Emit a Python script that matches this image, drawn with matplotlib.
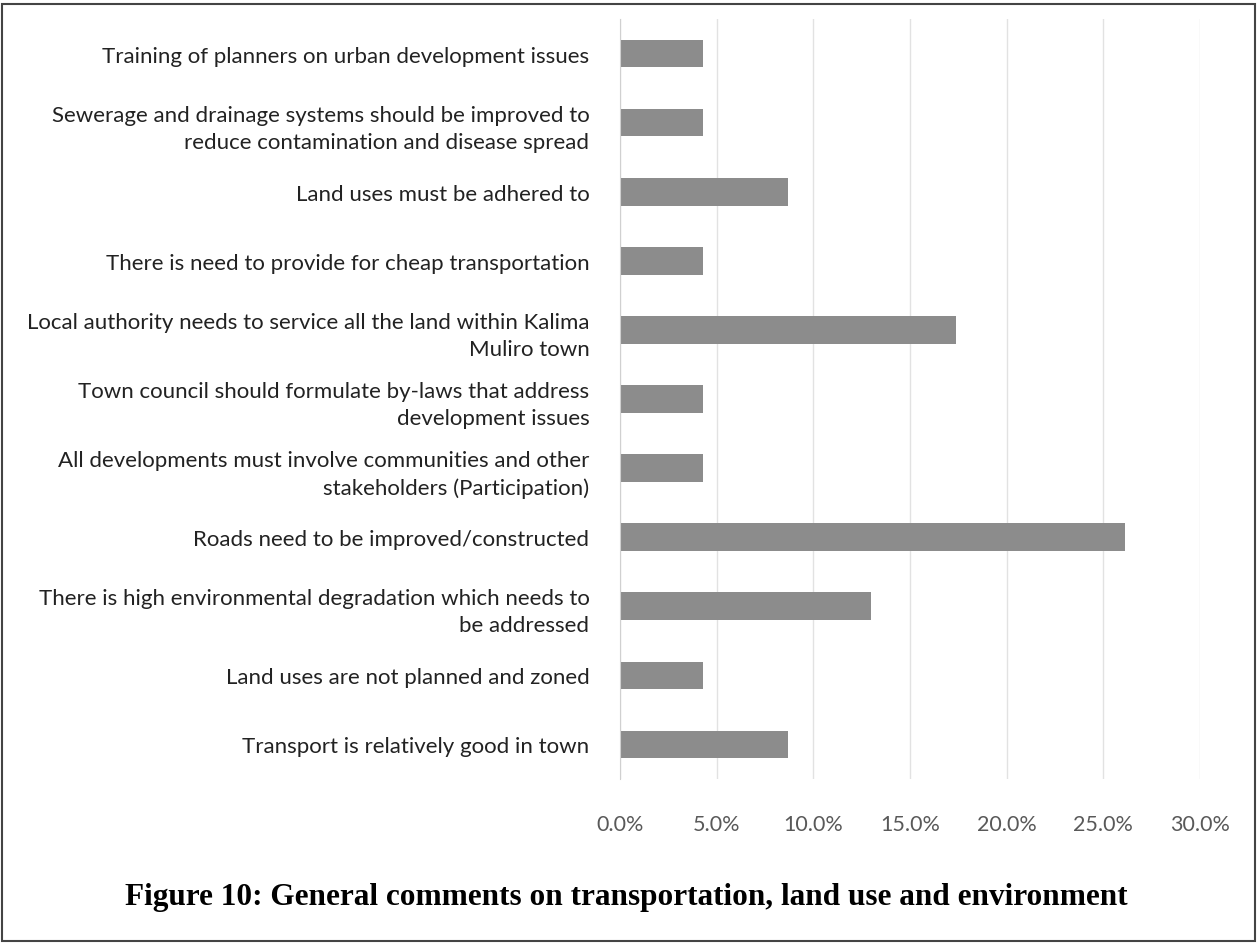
import matplotlib
matplotlib.use('Agg')
import matplotlib.pyplot as plt
from matplotlib.ticker import FuncFormatter
from matplotlib.patches import Rectangle

# Категории снизу вверх (как в горизонтальной диаграмме)
categories = [
    "Transport is relatively good in town",
    "Land uses are not planned and zoned",
    "There is high environmental degradation which needs to\nbe addressed",
    "Roads need to be improved/constructed",
    "All developments must involve communities and other\nstakeholders (Participation)",
    "Town council should formulate by-laws that address\ndevelopment issues",
    "Local authority needs to service all the land within Kalima\nMuliro town",
    "There is need to provide for cheap transportation",
    "Land uses must be adhered to",
    "Sewerage and drainage systems should be improved to\nreduce contamination and disease spread",
    "Training of planners on urban development issues",
]
shares = [8.7, 4.3, 13.0, 26.1, 4.3, 4.3, 17.4, 4.3, 8.7, 4.3, 4.3]
x_ticks = [0, 5, 10, 15, 20, 25, 30]

label_font = ['Lato', 'DejaVu Sans']

fig = plt.figure(figsize=(12.58, 9.45), dpi=100)
ax = fig.add_axes([620 / 1258, 1 - 780 / 945, (1200 - 620) / 1258, (780 - 20) / 945])

ax.barh(range(len(categories)), shares, height=0.4, color='#8c8c8c')
ax.set_ylim(-0.5, len(categories) - 0.5)
ax.set_xlim(0, 30)
ax.set_xticks(x_ticks)
ax.xaxis.set_major_formatter(FuncFormatter(lambda v, p: f"{v:.1f}%"))
ax.set_yticks(range(len(categories)))
ax.set_yticklabels(categories, family=label_font, fontsize=16, color='#222222',
                   linespacing=1.45)
for lbl in ax.get_xticklabels():
    lbl.set_family(label_font)
    lbl.set_fontsize(15.5)
    lbl.set_color('#595959')

ax.grid(axis='x', color='#e2e2e2', linewidth=1)
ax.set_axisbelow(True)
for s in ['top', 'right', 'bottom']:
    ax.spines[s].set_visible(False)
ax.spines['left'].set_color('#d0d0d0')
ax.tick_params(axis='both', length=0)
ax.tick_params(axis='y', pad=22)
ax.tick_params(axis='x', pad=25)

# Подпись рисунка
fig.text(0.498, 1 - 898 / 945, "Figure 10: General comments on transportation, land use and environment",
         ha='center', va='center', family='Liberation Serif', fontweight='bold', fontsize=22.5)

# Рамка вокруг рисунка
fig.patches.append(Rectangle((2 / 1258, 3 / 945), 1 - 5 / 1258, 1 - 8 / 945,
                             transform=fig.transFigure, fill=False,
                             edgecolor='#444444', linewidth=1.5))

fig.savefig('out.png', dpi=100)
